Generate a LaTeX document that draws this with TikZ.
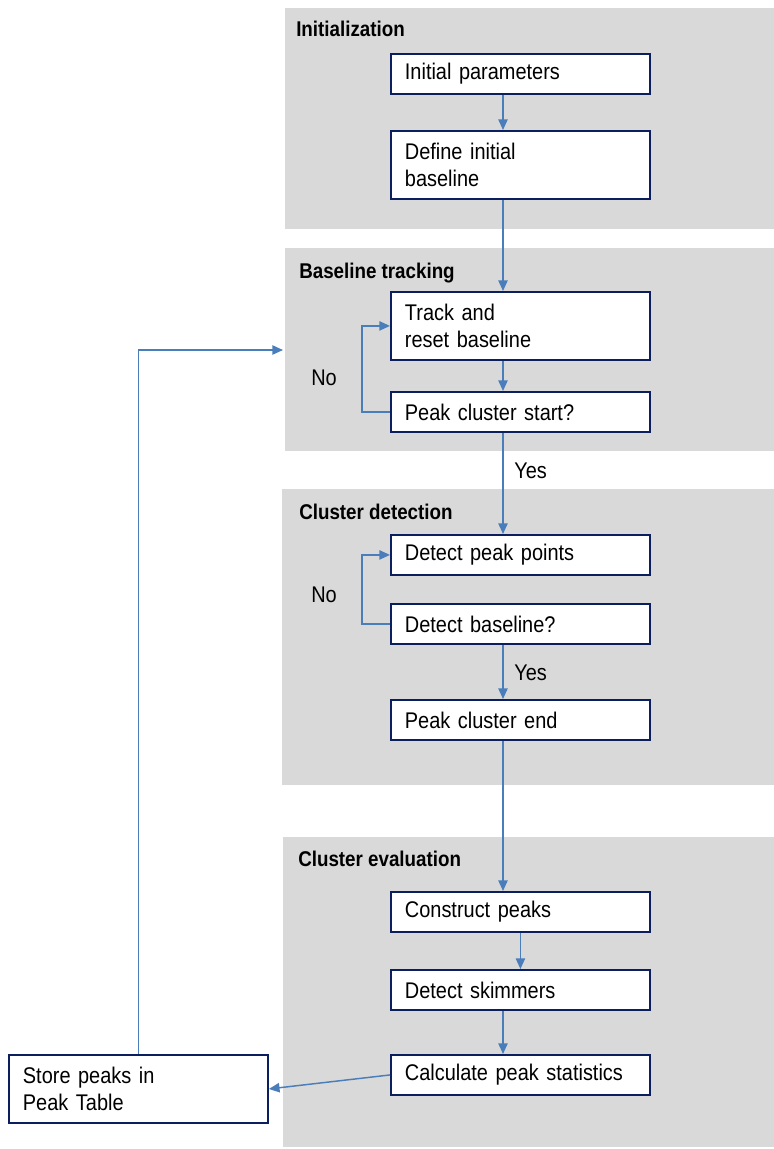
\documentclass[tikz,border=0pt]{standalone}
\usepackage{fontspec}
\setmainfont{Liberation Sans}[FakeStretch=0.88]
\usetikzlibrary{arrows.meta}
\definecolor{panelgray}{HTML}{D9D9D9}
\definecolor{boxnavy}{HTML}{0B1F5E}
\definecolor{flowblue}{HTML}{4A7EBB}
\newcommand{\twoline}[2]{#1\\#2}

\begin{document}
\begin{tikzpicture}[x=0.75pt,y=-0.75pt,
  title/.style={anchor=base west,inner sep=0pt,font=\fontsize{16}{20}\selectfont\bfseries},
  stage/.style={draw=boxnavy,line width=1.4pt,fill=white,anchor=north west,
    minimum width=194.25pt,minimum height=30pt,text width=173.25pt,inner xsep=10.5pt,
    align=left,font=\fontsize{17}{20}\selectfont},
  tall/.style={minimum height=51pt},
  flow/.style={draw=flowblue,line width=1.1pt,-{Triangle[length=8pt,width=7pt]}},
  lbl/.style={anchor=base west,inner sep=0pt,font=\fontsize{17}{20}\selectfont}]
\useasboundingbox (0,0) rectangle (774,1149);
% grey panels
\fill[panelgray] (285,8) rectangle (774,229);
\fill[panelgray] (285,248) rectangle (774,451);
\fill[panelgray] (282,489) rectangle (774,785);
\fill[panelgray] (283,837) rectangle (774,1147);
\node[title] (tInit) at (296,37) {Initialization};
\node[title] (tTrack) at (299,278) {Baseline tracking};
\node[title] (tDetect) at (299,519) {Cluster detection};
\node[title] (tEval) at (298,866) {Cluster evaluation};

\node[stage] (init) at (390,53) {Initial parameters};
\node[stage,tall] (defbase) at (390,130) {\twoline{Define initial}{baseline}};
\node[stage,tall] (track) at (390,291) {\twoline{Track and}{reset baseline}};
\node[stage] (pcstart) at (390,391) {Peak cluster start?};
\node[stage] (detpts) at (390,534) {Detect peak points};
\node[stage] (detbase) at (390,603) {Detect baseline?};
\node[stage] (pcend) at (390,699) {Peak cluster end};
\node[stage] (construct) at (390,891) {Construct peaks};
\node[stage] (skim) at (390,969) {Detect skimmers};
\node[stage] (calc) at (390,1054) {Calculate peak statistics};
\node[stage,tall] (store) at (8,1054) {\twoline{Store peaks in}{Peak Table}};

\node[lbl] (no1) at (311,385) {No};
\node[lbl] (yes1) at (514,478) {Yes};
\node[lbl] (no2) at (311,602) {No};
\node[lbl] (yes2) at (514,680) {Yes};

\coordinate (spine) at (503,0);
\coordinate (reentry) at (283,350);
 \draw[flow] (init.south -| spine) -- (defbase.north -| spine);
 \draw[flow] (defbase.south -| spine) -- (track.north -| spine);
 \draw[flow] (track.south -| spine) -- (pcstart.north -| spine);
 \draw[flow] (pcstart.south -| spine) -- (detpts.north -| spine);
 \draw[flow] (detbase.south -| spine) -- (pcend.north -| spine);
 \draw[flow] (pcend.south -| spine) -- (construct.north -| spine);
 \draw[flow] (construct) -- (skim);
 \draw[flow] (skim.south -| spine) -- (calc.north -| spine);
 \draw[flow] (pcstart.west) -- ++(-28,0) |- (track.west);
 \draw[flow] (detbase.west) -- ++(-28,0) |- (detpts.west);
 \draw[flow] (calc.west) -- (store.east);
 \draw[flow] (store.north) |- (reentry);
\end{tikzpicture}
\end{document}
